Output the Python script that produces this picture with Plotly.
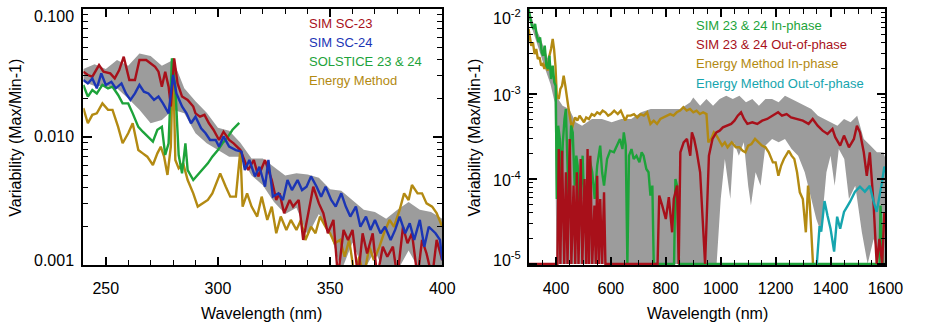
import math
import plotly.graph_objects as go

# ---------------- LEFT PANEL DATA (wavelength nm, variability) ----------------
L_SC23_X = [240, 242, 244, 247, 249, 252, 254, 256, 258, 260.5, 263, 265, 268, 270, 272, 273.5, 275, 276.5, 278, 279,
            280.5, 282, 284, 286.5, 289, 290, 292, 294, 296, 298, 300.5, 302.5, 305, 307, 310, 313.5, 316, 318, 321, 324,
            326, 327.5, 329.5, 332, 333.5, 336, 338, 340, 342.5, 345, 347, 349, 351.5, 353.5, 356, 358, 360, 362.5, 364.5,
            366.5, 369, 371, 373.5, 375.5, 378, 380, 382.5, 384.5, 386.5, 389, 391, 393, 395.5, 397.5, 400]
L_SC23_Y = [0.0324, 0.0305, 0.0296, 0.0365, 0.0324, 0.0314, 0.0287, 0.0333, 0.0424, 0.0279, 0.0279, 0.0400, 0.0400,
            0.0377, 0.0354, 0.0324, 0.0247, 0.0324, 0.0247, 0.0173, 0.0412, 0.0262, 0.0207, 0.0195, 0.0173, 0.0153,
            0.0144, 0.0149, 0.0128, 0.0114, 0.00948, 0.0110, 0.00948, 0.00893, 0.00791, 0.00552, 0.00661, 0.00492,
            0.00661, 0.00461, 0.00322, 0.00363, 0.00254, 0.00322, 0.00286, 0.00322, 0.00157, 0.00239, 0.00409, 0.00303,
            0.00254, 0.00177, 0.00225, 0.0008, 0.00188, 0.00157, 0.00188, 0.0008, 0.00177, 0.00123, 0.00177, 0.0008,
            0.00139, 0.00116, 0.00139, 0.0008, 0.00199, 0.00148, 0.00177, 0.0008, 0.00157, 0.00123, 0.0008, 0.00157,
            0.00109]

L_SC24_X = [240, 242, 244, 246, 248, 250, 252.5, 254.5, 257, 259, 261, 263, 265, 267, 269, 271.5, 273.5, 275.5, 278, 280,
            281.5, 284, 286, 288, 290, 292.5, 294.5, 296.5, 299, 300.5, 302.5, 305, 308, 310.5, 312, 314, 316.5, 318.5,
            321, 322.5, 324.5, 327, 329, 331, 333, 335.5, 337.5, 339.5, 341.5, 344, 346, 348, 350.5, 352.5, 355, 357, 359,
            361.5, 363.5, 366, 368, 370, 372.5, 374.5, 377, 379, 381, 383.5, 385.5, 387.5, 390, 392, 394, 397, 399, 400]
L_SC24_Y = [0.0279, 0.0262, 0.0287, 0.0240, 0.0314, 0.0255, 0.0270, 0.0240, 0.0262, 0.0219, 0.0195, 0.0219, 0.0255,
            0.0226, 0.0219, 0.0195, 0.0207, 0.0183, 0.0153, 0.0305, 0.0219, 0.0173, 0.0153, 0.0128, 0.0144, 0.0117,
            0.0107, 0.00948, 0.00948, 0.00840, 0.0101, 0.00840, 0.00791, 0.00768, 0.00552, 0.00661, 0.00492, 0.00586,
            0.00409, 0.00661, 0.00342, 0.00363, 0.00322, 0.00461, 0.00385, 0.00461, 0.00385, 0.00409, 0.00492, 0.00409,
            0.00342, 0.00409, 0.00322, 0.00286, 0.00363, 0.00286, 0.00239, 0.00286, 0.00199, 0.00239, 0.00188, 0.00225,
            0.00177, 0.00199, 0.00157, 0.00188, 0.00239, 0.00177, 0.00212, 0.00157, 0.00225, 0.00139, 0.00199, 0.00177,
            0.00157, 0.00109]

L_SOL_X = [240, 242, 244, 246, 248.5, 251, 253, 255.5, 257.5, 260, 262, 264.5, 266.5, 268.5, 271, 273, 275, 276.5, 278,
           279.5, 281, 282.5, 284, 285.5, 286.5, 289, 291, 293, 295.5, 297.5, 300, 302, 304, 306.5, 308.5, 309.5]
L_SOL_Y = [0.0255, 0.0207, 0.0233, 0.0219, 0.0255, 0.0240, 0.0247, 0.0213, 0.0183, 0.0183, 0.0153, 0.0120, 0.0110,
           0.0101, 0.00920, 0.0114, 0.0120, 0.00723, 0.00893, 0.0412, 0.0247, 0.00723, 0.00520, 0.00893, 0.00552,
           0.00461, 0.00505, 0.00552, 0.00622, 0.00702, 0.00791, 0.00893, 0.00977, 0.0114, 0.0124, 0.0129]

L_EM_X = [240, 242, 244, 246, 248.5, 251, 253, 255.5, 257.5, 260, 262, 264.5, 266.5, 268.5, 271, 273, 274.5, 276, 277.5,
          279, 280, 281, 282.5, 284.5, 286.5, 289, 291, 293, 295.5, 297.5, 300, 301, 303.5, 305.5, 308, 310, 311, 313,
          315, 317.5, 319.5, 322, 324, 326, 328, 330.5, 332.5, 335, 337, 339, 341.5, 343.5, 345.5, 348, 350, 352, 354.5,
          356.5, 358.5, 361, 363, 365, 367.5, 369.5, 372, 374, 376.5, 378.5, 381, 383, 385, 386.5, 389, 391, 393, 395.5,
          397.5, 400]
L_EM_Y = [0.0168, 0.0128, 0.0149, 0.0153, 0.0183, 0.0163, 0.0163, 0.0120, 0.00893, 0.0107, 0.0128, 0.00791, 0.00745,
          0.00702, 0.00604, 0.00745, 0.00840, 0.00702, 0.00505, 0.00840, 0.0412, 0.00661, 0.00569, 0.00622, 0.00461,
          0.00363, 0.00286, 0.00303, 0.00322, 0.00363, 0.00461, 0.00520, 0.00409, 0.00342, 0.00342, 0.00791, 0.00286,
          0.00363, 0.00286, 0.00239, 0.00342, 0.00225, 0.00286, 0.00177, 0.00239, 0.00188, 0.00225, 0.00188, 0.00225,
          0.00157, 0.00199, 0.00177, 0.00239, 0.00199, 0.00177, 0.00148, 0.00157, 0.00116, 0.00157, 0.0008, 0.00116,
          0.0008, 0.00139, 0.00109, 0.00139, 0.00177, 0.00225, 0.00199, 0.00269, 0.00363, 0.00322, 0.00422, 0.00363,
          0.00363, 0.00303, 0.00286, 0.00254, 0.00199]

L_BAND_X = [240, 245, 250, 255, 260, 265, 270, 275, 280, 285, 290, 295, 300, 305, 310, 315, 320, 325, 330, 335, 340,
            345, 350, 355, 360, 365, 370, 375, 380, 385, 390, 395, 400]
L_BAND_HI = [0.0340, 0.0370, 0.0340, 0.0400, 0.0360, 0.0450, 0.0430, 0.0360, 0.0400, 0.0240, 0.0190, 0.0155, 0.0118,
             0.0112, 0.0090, 0.0068, 0.0068, 0.0058, 0.0050, 0.0052, 0.0051, 0.0048, 0.0039, 0.0038, 0.0032, 0.0027,
             0.0026, 0.0023, 0.0027, 0.0031, 0.0027, 0.0026, 0.0023]
L_BAND_LO = [0.0270, 0.0250, 0.0250, 0.0240, 0.0200, 0.0163, 0.0128, 0.0136, 0.0163, 0.0153, 0.0107, 0.00893, 0.00791,
             0.00702, 0.0070, 0.0050, 0.0042, 0.0031, 0.0025, 0.0028, 0.0017, 0.0025, 0.0018, 0.0009, 0.0015, 0.0009,
             0.0013, 0.0008, 0.0009, 0.0013, 0.0009, 0.0009, 0.0008]

# ---------------- RIGHT PANEL DATA ----------------
R_IN_X = [300, 307, 312, 318, 324, 330, 336, 342, 348, 353, 359, 365, 371, 376, 382, 388, 394, 399, 403, 408, 414, 420,
          425, 431, 436, 441, 446, 450, 455, 461, 468, 474, 479, 485, 490, 497, 502, 507, 514, 522, 532, 541, 550, 561,
          568, 575, 586, 597, 611, 622, 633, 642, 647, 654, 660, 666, 675, 683, 693, 704, 712, 719, 729, 737, 744, 751,
          756, 830, 835, 841, 848, 1578, 1582, 1590, 1600]
R_IN_Y = [1.0e-2, 7.98e-3, 6.37e-3, 5.82e-3, 6.67e-3, 4.86e-3, 4.06e-3, 4.65e-3, 3.09e-3, 2.82e-3, 3.70e-3, 2.16e-3,
          1.97e-3, 2.82e-3, 1.50e-3, 2.16e-3, 1.37e-3, 1.25e-3, 5.82e-5, 4.24e-4, 2.96e-4, 9.14e-5, 2.70e-4, 5.08e-4,
          6.66e-4, 1.88e-4, 4.86e-5, 1.72e-4, 4.24e-4, 3.54e-4, 8.35e-5, 1.88e-4, 1.44e-4, 3.7e-5, 8.35e-5, 1.88e-4,
          5.82e-5, 8.35e-5, 2.36e-5, 1.72e-4, 1.20e-4, 5.82e-5, 1.44e-4, 2.47e-4, 1.20e-4, 8.35e-5, 1.72e-4, 2.15e-4,
          2.06e-4, 2.47e-4, 2.96e-4, 2.25e-4, 3.54e-4, 2.47e-4, 1e-5, 1.88e-4, 2.25e-4, 1.72e-4, 1.88e-4, 1.57e-4,
          2.06e-4, 1.88e-4, 1.31e-4, 1.20e-4, 6.37e-5, 8.35e-5, 1e-5, 1e-5, 1.0e-4, 8.35e-5, 1e-5, 1e-5, 4.86e-5, 1e-5,
          1e-5]

R_OUT_X = [300, 405, 410, 416, 422, 430, 436, 442, 450, 456, 464, 470, 476, 482, 490, 496, 504, 510, 515, 520, 525, 532,
           540, 545, 550, 556, 561, 568, 575, 580, 770, 776, 787, 800, 811, 823, 829, 841, 847, 853, 865, 877, 889, 895,
           903, 913, 925, 937, 943, 957, 970, 984, 996, 1008, 1026, 1038, 1050, 1062, 1074, 1085, 1097, 1115, 1133, 1151,
           1169, 1187, 1209, 1223, 1240, 1256, 1274, 1299, 1320, 1335, 1353, 1371, 1389, 1407, 1417, 1435, 1449, 1467,
           1485, 1496, 1507, 1521, 1532, 1543, 1557, 1568, 1578, 1588, 1596, 1600]
R_OUT_Y = [1e-5, 1e-5, 2.25e-4, 1e-5, 2.15e-4, 1e-5, 1.2e-4, 1e-5, 2.96e-4, 1e-5, 8.35e-5, 1e-5, 1.2e-4, 1e-5, 1.72e-4,
           1e-5, 1.0e-4, 1e-5, 2.25e-4, 1e-5, 1.88e-4, 1e-5, 4.86e-5, 1e-5, 1.09e-4, 1e-5, 5.82e-5, 1e-5, 6.97e-5, 1e-5,
           1e-5, 6.37e-5, 4.86e-5, 3.38e-5, 6.1e-5, 2.36e-5, 5.82e-5, 8.35e-5, 1e-5, 2.06e-4, 2.70e-4, 2.96e-4, 1.88e-4,
           3.54e-4, 2.96e-4, 2.06e-4, 1.20e-4, 2.36e-5, 1e-5, 1.88e-4, 2.96e-4, 3.54e-4, 3.7e-4, 4.05e-4, 4.24e-4,
           4.45e-4, 4.86e-4, 5.56e-4, 6.09e-4, 5.08e-4, 4.45e-4, 4.65e-4, 4.45e-4, 4.86e-4, 5.08e-4, 5.56e-4, 6.09e-4,
           5.56e-4, 5.8e-4, 5.3e-4, 5.08e-4, 4.86e-4, 4.45e-4, 5.08e-4, 4.24e-4, 3.7e-4, 3.39e-4, 3.88e-4, 3.1e-4,
           2.47e-4, 3.24e-4, 2.36e-4, 2.96e-4, 4.24e-4, 3.54e-4, 2.06e-4, 1.09e-4, 2.06e-4, 4.86e-5, 1e-5, 1.97e-5, 1e-5,
           4.06e-5, 3.7e-5]

R_EMIN_X = [300, 305, 310, 316, 322, 328, 334, 340, 346, 352, 358, 364, 370, 376, 382, 388, 393, 398, 403, 410, 416,
            422, 428, 434, 440, 446, 452, 458, 464, 470, 478, 486, 494, 502, 510, 520, 530, 540, 550, 560, 570, 580, 590,
            600, 612, 625, 636, 645, 652, 660, 672, 684, 696, 708, 720, 732, 744, 756, 768, 780, 792, 804, 816, 828, 840,
            852, 864, 876, 888, 900, 912, 924, 936, 948, 955, 965, 975, 985, 995, 1005, 1015, 1025, 1040, 1055, 1068,
            1080, 1090, 1100, 1112, 1125, 1138, 1150, 1163, 1175, 1190, 1200, 1210, 1220, 1230, 1240, 1248, 1258, 1268,
            1278, 1288, 1299, 1310, 1318, 1324, 1330, 1336]
R_EMIN_Y = [5.82e-3, 4.44e-3, 3.70e-3, 4.06e-3, 2.95e-3, 3.38e-3, 2.58e-3, 2.7e-3, 2.16e-3, 2.26e-3, 1.97e-3, 2.36e-3,
            1.88e-3, 2.82e-3, 3.38e-3, 4.44e-3, 3.38e-3, 2.16e-3, 9.55e-4, 8.73e-4, 1.15e-3, 1.25e-3, 1.64e-3, 1.25e-3,
            8.73e-4, 6.66e-4, 5.08e-4, 3.88e-4, 4.65e-4, 5.3e-4, 4.86e-4, 5.56e-4, 5.08e-4, 4.65e-4, 5.3e-4, 5.08e-4,
            5.8e-4, 5.56e-4, 6.09e-4, 5.8e-4, 6.37e-4, 6.09e-4, 5.56e-4, 5.8e-4, 6.37e-4, 5.8e-4, 6.37e-4, 5.3e-4,
            4.86e-4, 5.56e-4, 5.56e-4, 5.8e-4, 5.3e-4, 5.8e-4, 5.56e-4, 6.09e-4, 4.45e-4, 4.86e-4, 4.45e-4, 5.08e-4,
            5.3e-4, 5.56e-4, 5.8e-4, 5.56e-4, 6.09e-4, 6.37e-4, 7.0e-4, 6.37e-4, 6.66e-4, 6.09e-4, 6.37e-4, 5.8e-4,
            6.09e-4, 5.8e-4, 2.7e-4, 2.96e-4, 3.54e-4, 3.24e-4, 2.83e-4, 2.47e-4, 2.70e-4, 2.36e-4, 2.70e-4, 2.36e-4,
            2.36e-4, 2.15e-4, 2.06e-4, 2.47e-4, 2.58e-4, 2.96e-4, 2.70e-4, 2.47e-4, 2.36e-4, 2.06e-4, 1.57e-4, 1.57e-4,
            1.09e-4, 1.44e-4, 1.72e-4, 1.97e-4, 2.15e-4, 1.88e-4, 1.72e-4, 1.20e-4, 6.97e-5, 5.82e-5, 2.36e-5, 8.35e-5,
            5.3e-5, 2.36e-5, 1e-5]

R_EMOUT_X = [1350, 1360, 1366, 1378, 1389, 1400, 1413, 1424, 1435, 1449, 1460, 1471, 1489, 1507, 1525, 1543, 1557, 1568,
             1585, 1596, 1600]
R_EMOUT_Y = [1e-5, 2.8e-5, 2.4e-5, 5.5e-5, 3.7e-5, 2.6e-5, 1.4e-5, 3.6e-5, 2.6e-5, 4.1e-5, 4.7e-5, 5.4e-5, 7.1e-5,
             8.1e-5, 7.1e-5, 8.3e-5, 5.4e-5, 4.1e-5, 8.3e-5, 1.4e-4, 1.2e-4]

R_BAND_HI_X = [300, 320, 340, 360, 380, 395, 400, 424, 448, 472, 495, 531, 567, 603, 638, 674, 710, 745, 781, 817, 853,
               889, 900, 925, 948, 972, 996, 1020, 1044, 1068, 1092, 1115, 1139, 1163, 1187, 1211, 1234, 1258, 1282,
               1306, 1330, 1354, 1378, 1402, 1425, 1449, 1473, 1497, 1521, 1545, 1569, 1593, 1600]
R_BAND_HI = [1.05e-2, 6.5e-3, 4.8e-3, 3.2e-3, 2.2e-3, 1.5e-3, 9.55e-4, 7.29e-4, 6.66e-4, 4.65e-4, 4.24e-4, 5.08e-4,
             5.08e-4, 4.65e-4, 5.08e-4, 5.08e-4, 6.09e-4, 6.66e-4, 6.66e-4, 6.66e-4, 6.66e-4, 7.98e-4, 9.1e-4, 7.29e-4,
             8.73e-4, 7.29e-4, 8.73e-4, 9.55e-4, 8.73e-4, 9.55e-4, 7.98e-4, 8.73e-4, 7.29e-4, 8.73e-4, 8.73e-4, 7.98e-4,
             9.55e-4, 8.73e-4, 7.98e-4, 7.29e-4, 6.66e-4, 5.56e-4, 5.08e-4, 4.65e-4, 4.24e-4, 5.08e-4, 4.65e-4, 5.56e-4,
             2.96e-4, 2.47e-4, 2.06e-4, 2.06e-4, 1.72e-4]
R_BAND_LO_X = [300, 320, 340, 360, 380, 395, 402, 985, 1000, 1015, 1035, 1048, 1066, 1084, 1100, 1110, 1127, 1145, 1163,
               1187, 1211, 1234, 1258, 1282, 1306, 1330, 1348, 1365, 1385, 1400, 1415, 1430, 1450, 1467, 1490, 1514, 1535,
               1557, 1580, 1600]
R_BAND_LO = [8e-3, 5e-3, 3.2e-3, 2e-3, 1.3e-3, 8e-4, 1e-5, 1e-5, 5.82e-5, 1.72e-4, 5.8e-5, 2.7e-4, 1.88e-4, 2.7e-4,
             8.35e-5, 4.86e-5, 1.2e-4, 8.35e-5, 2.47e-4, 2.96e-4, 2.7e-4, 2.96e-4, 2.25e-4, 1.88e-4, 1.2e-4, 5.82e-5,
             3.38e-5, 2.36e-5, 1.2e-4, 1.88e-4, 8.35e-5, 2.25e-4, 1.72e-4, 5.82e-5, 8.35e-5, 2.36e-5, 1e-5, 1.97e-5, 1e-5,
             1e-5]

LEFT_LEGEND = ["SIM SC-23", "SIM SC-24", "SOLSTICE 23 & 24", "Energy Method"]
RIGHT_LEGEND = ["SIM 23 & 24 In-phase", "SIM 23 & 24 Out-of-phase", "Energy Method In-phase",
                "Energy Method Out-of-phase"]
LEFT_YTICKS = [0.001, 0.01, 0.1]
LEFT_YTEXT = ["0.001", "0.010", "0.100"]
RIGHT_YTICKS = [1e-5, 1e-4, 1e-3, 1e-2]
RIGHT_YTEXT = ["10<sup>-5</sup>", "10<sup>-4</sup>", "10<sup>-3</sup>", "10<sup>-2</sup>"]

# ---------------- STYLE ----------------
RED = "#A8101A"
BLUE = "#1B35B5"
GREEN = "#1DA33A"
GOLD = "#B38A12"
CYAN = "#16A5AE"
GRAY = "#9C9C9C"
FONT = "Liberation Sans, Arial, Helvetica, sans-serif"
W, H = 927, 326
LW = 2.4


def px(x):
    return x / W


def py(y):
    return 1 - y / H


fig = go.Figure()


def line(x, y, color, xa, ya):
    fig.add_trace(go.Scatter(x=x, y=y, mode="lines", line=dict(color=color, width=LW, shape="linear"),
                             xaxis=xa, yaxis=ya, showlegend=False, hoverinfo="skip"))


# left band
fig.add_trace(go.Scatter(x=L_BAND_X + L_BAND_X[::-1], y=L_BAND_HI + L_BAND_LO[::-1], fill="toself",
                         fillcolor=GRAY, line=dict(width=0), mode="lines", xaxis="x", yaxis="y",
                         showlegend=False, hoverinfo="skip"))
line(L_EM_X, L_EM_Y, GOLD, "x", "y")
line(L_SOL_X, L_SOL_Y, GREEN, "x", "y")
line(L_SC23_X, L_SC23_Y, RED, "x", "y")
line(L_SC24_X, L_SC24_Y, BLUE, "x", "y")

# right band
fig.add_trace(go.Scatter(x=R_BAND_HI_X + R_BAND_LO_X[::-1], y=R_BAND_HI + R_BAND_LO[::-1], fill="toself",
                         fillcolor=GRAY, line=dict(width=0), mode="lines", xaxis="x2", yaxis="y2",
                         showlegend=False, hoverinfo="skip"))
line(R_EMIN_X, R_EMIN_Y, GOLD, "x2", "y2")
line(R_IN_X, R_IN_Y, GREEN, "x2", "y2")
line(R_OUT_X, R_OUT_Y, RED, "x2", "y2")
line(R_EMOUT_X, R_EMOUT_Y, CYAN, "x2", "y2")

common = dict(showline=True, linecolor="black", linewidth=1.5, mirror="allticks", ticks="inside",
              tickcolor="black", tickwidth=1.5, showgrid=False, zeroline=False,
              tickfont=dict(family=FONT, size=16, color="black"))

left_minor_x = [v for v in range(240, 401, 10) if v % 50 != 0]
right_minor_x = [v for v in range(300, 1601, 50) if v % 200 != 0]
left_minor_y = [k * 10 ** e for e in (-3, -2) for k in range(2, 10)]
right_minor_y = [k * 10 ** e for e in (-5, -4, -3) for k in range(2, 10)]


def minor(vals):
    return dict(tickmode="array", tickvals=vals, ticklen=5, ticks="inside", tickcolor="black", tickwidth=1.2,
                showgrid=False)


ydom = [py(265), py(9)]
fig.update_layout(
    width=W, height=H, margin=dict(l=0, r=0, t=0, b=0), paper_bgcolor="white", plot_bgcolor="white",
    font=dict(family=FONT, size=16, color="black"),
    xaxis=dict(domain=[px(85), px(451)], range=[240, 400], tickmode="array", tickvals=[250, 300, 350, 400],
               ticklen=8, minor=minor(left_minor_x), anchor="y", ticklabelstandoff=8, **common),
    yaxis=dict(domain=ydom, type="log", range=[-3, -1], tickmode="array", tickvals=LEFT_YTICKS,
               showticklabels=False, ticklen=9, minor=minor(left_minor_y), anchor="x", **common),
    xaxis2=dict(domain=[px(539), px(903)], range=[300, 1600], tickmode="array",
                tickvals=list(range(400, 1601, 200)), ticklen=8, minor=minor(right_minor_x),
                anchor="y2", ticklabelstandoff=8, **common),
    yaxis2=dict(domain=ydom, type="log", range=[-5.012, -2], tickmode="array", tickvals=RIGHT_YTICKS,
                showticklabels=False, ticklen=9, minor=minor(right_minor_y), anchor="x2", **common),
)

ann = []
# y tick labels
lshift = {0.001: 5, 0.01: 0, 0.1: -8}
for v, t in zip(LEFT_YTICKS, LEFT_YTEXT):
    ann.append(dict(xref="x domain", yref="y", x=0, y=math.log10(v), text=t, showarrow=False, xanchor="right",
                    yanchor="middle", xshift=-7, yshift=lshift[v], font=dict(family=FONT, size=16, color="black")))
rshift = {1e-5: 5, 1e-4: 0, 1e-3: 0, 1e-2: -8}
for v, t in zip(RIGHT_YTICKS, RIGHT_YTEXT):
    ann.append(dict(xref="x2 domain", yref="y2", x=0, y=math.log10(v), text=t, showarrow=False, xanchor="right",
                    yanchor="middle", xshift=-6, yshift=rshift[v], font=dict(family=FONT, size=16, color="black")))
# legends
for i, (t, c) in enumerate(zip(LEFT_LEGEND, [RED, BLUE, GREEN, GOLD])):
    ann.append(dict(xref="paper", yref="paper", x=px(313), y=py(23 + 19 * i), text=t, showarrow=False,
                    xanchor="left", yanchor="middle", font=dict(family=FONT, size=13, color=c)))
for i, (t, c) in enumerate(zip(RIGHT_LEGEND, [GREEN, RED, GOLD, CYAN])):
    ann.append(dict(xref="paper", yref="paper", x=px(708), y=py(25 + 19.5 * i), text=t, showarrow=False,
                    xanchor="left", yanchor="middle", font=dict(family=FONT, size=13, color=c)))
# axis titles
for xc in (267, 721):
    ann.append(dict(xref="paper", yref="paper", x=px(xc), y=py(313), text="Wavelength (nm)", showarrow=False,
                    xanchor="center", yanchor="middle", font=dict(family=FONT, size=16, color="black")))
for xc in (15, 483):
    ann.append(dict(xref="paper", yref="paper", x=px(xc), y=py(138), text="Variability (Max/Min-1)",
                    showarrow=False, textangle=-90, xanchor="center", yanchor="middle",
                    font=dict(family=FONT, size=16, color="black")))
fig.update_layout(annotations=ann)

fig.write_html("out.html")
